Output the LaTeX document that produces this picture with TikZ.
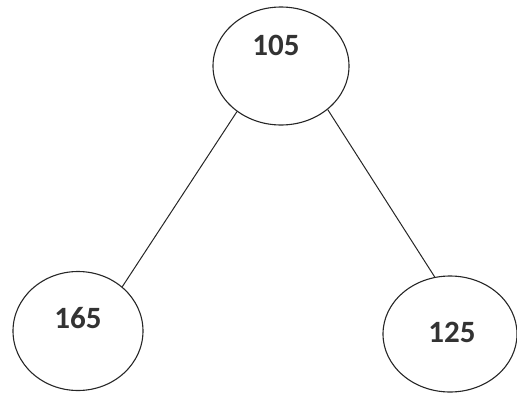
\documentclass[tikz,border=0pt]{standalone}
\usepackage{fontspec}
\setmainfont{Carlito}
\usetikzlibrary{shapes.geometric}
\begin{document}
\begin{tikzpicture}[x=1pt,y=-1pt,
  vnode/.style={draw=black!85, line width=1.1pt, ellipse, inner sep=0pt},
  lbl/.style={font=\fontsize{31}{31}\selectfont\bfseries, text=black!80},
  edge/.style={draw=black!85, line width=1pt}]
\useasboundingbox (0,0) rectangle (517,394);
\node[vnode, minimum width=136pt, minimum height=118pt] (top) at (281,66) {};
\node[vnode, minimum width=130pt, minimum height=119pt] (left) at (78,331) {};
\node[vnode, minimum width=134pt, minimum height=116pt] (right) at (450,334) {};
\node[lbl] (t1) at (276,45) {105};
\node[lbl] (t2) at (78,318) {165};
\node[lbl] (t3) at (452,332) {125};
\draw[edge] (top.226) -- (left.45);
\draw[edge] (top.317) -- (right.105);
\end{tikzpicture}
\end{document}
